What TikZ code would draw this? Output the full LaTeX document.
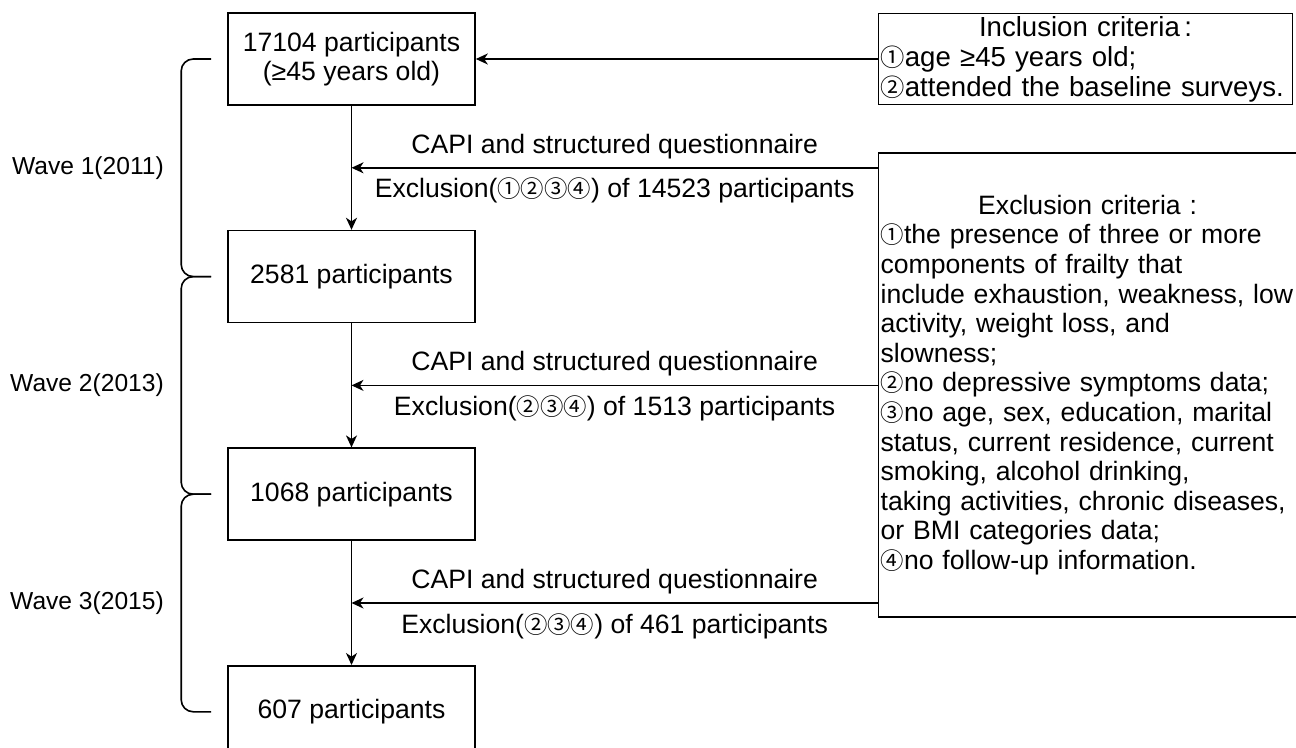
\documentclass[tikz,border=0pt]{standalone}
\usepackage{fontspec}
\setmainfont{Liberation Sans}
\newfontfamily\circfont{Noto Sans CJK SC}[Scale=0.88]
\usetikzlibrary{positioning,calc,arrows.meta}
\newcommand{\cn}[1]{\smash{\circfont #1}}
\tikzset{
    box/.style={draw, line width=0.8pt, minimum width=123.5pt, minimum height=46pt, align=center, font=\fontsize{13.3}{14.6}\selectfont},
    crit/.style={draw, line width=0.8pt, inner xsep=1pt, inner ysep=0pt, align=left},
    arr/.style={line width=0.8pt, -{Stealth[length=6pt,width=5.5pt,inset=1.8pt]}},
    brace/.style={line width=0.8pt, rounded corners=6pt},
    lbl/.style={font=\fontsize{13.3}{14.6}\selectfont, inner sep=0pt},
    wave/.style={font=\fontsize{12.3}{14}\selectfont, anchor=east, inner sep=0pt}
}
\begin{document}
\begin{tikzpicture}[x=0.5pt, y=-0.5pt]
    \useasboundingbox (0,0) rectangle (1296,748);
    \node[box] (p1) at (351.5,59) {17104 participants\\(≥45 years old)};
    \node[box, below=62pt of p1] (p2) {2581 participants};
    \node[box, below=62pt of p2] (p3) {1068 participants};
    \node[box, below=62pt of p3] (p4) {607 participants};
    \node[crit, text width=205pt, minimum height=45.5pt, font=\fontsize{13.8}{15}\selectfont, right=201pt of p1] (incl) {{\centering Inclusion criteria\,:\par}\mbox{\cn{①}age ≥45 years old;}\\\mbox{\cn{②}attended the baseline surveys.}};
    \node[crit, text width=207pt, minimum height=232pt, font=\fontsize{13.3}{14.8}\selectfont, below=23.5pt of incl.south west, anchor=north west] (excl) {{\centering Exclusion criteria :\par}
        \cn{①}the presence of three or more\\
        components of frailty that\\
        \mbox{include exhaustion, weakness, low}\\
        activity, weight loss, and\\
        slowness;\\
        \cn{②}no depressive symptoms data;\\
        \cn{③}no age, sex, education, marital\\
        status, current residence, current\\
        smoking, alcohol drinking,\\
        \mbox{taking activities, chronic diseases,}\\
        or BMI categories data;\\
        \cn{④}no follow-up information.};
    \draw[arr] (incl) -- (p1);
    \foreach \a/\b/\wv in {p1/p2/1(2011), p2/p3/2(2013), p3/p4/3(2015)} {
        \draw[arr] (\a) -- (\b);
        \draw[brace] ([xshift=-8pt]\a.west) -- ([xshift=-23pt]\a.west) -- ([xshift=-23pt]\b.west) -- ([xshift=-8pt]\b.west);
        \node[wave] (wave-\a) at ($([xshift=-31.5pt]\a.west)!0.5!([xshift=-31.5pt]\b.west)$) {Wave \wv};
    }
    \foreach \a/\b/\circs/\cnt in {p1/p2/①②③④/14523, p2/p3/②③④/1513, p3/p4/②③④/461} {
        \coordinate (m-\a) at ($(\a.south)!0.5!(\b.north)$);
        \draw[arr] (m-\a -| excl.west) -- node[lbl, above=4.2pt] (capi-\a) {CAPI and structured questionnaire} node[lbl, below=5pt] (excl-\a) {Exclusion(\cn{\circs}) of \cnt\ participants} (m-\a);
    }
\end{tikzpicture}
\end{document}
